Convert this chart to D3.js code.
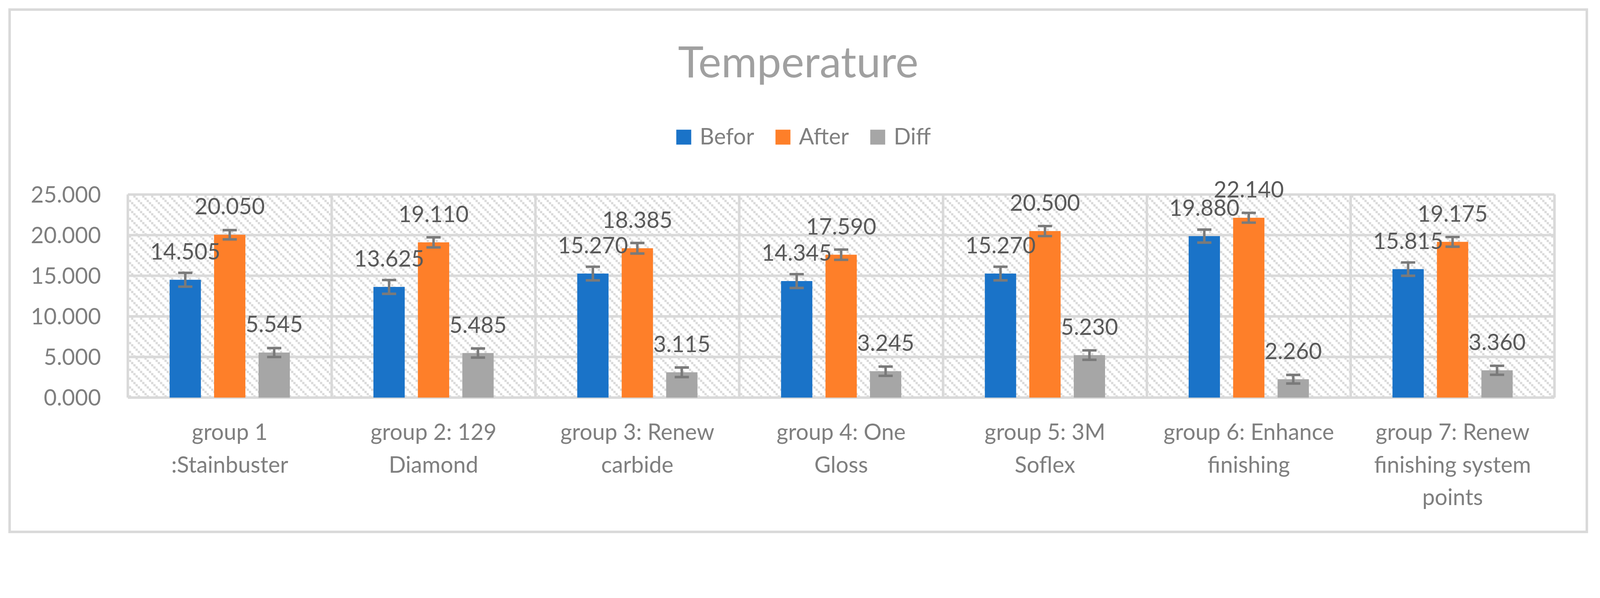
<!DOCTYPE html>
<html>
<head>
<meta charset="utf-8">
<script src="https://cdn.jsdelivr.net/npm/d3@7"></script>
<style>
  html, body { margin: 0; padding: 0; background: #fff; overflow: hidden; }
  #chart { display: block; width: 100vw; height: auto; }
  text { font-family: Lato, "Open Sans", sans-serif; }
</style>
</head>
<body>
<svg id="chart" viewBox="0 0 4500 1532" preserveAspectRatio="xMinYMin meet"></svg>
<script>
// ---- data ----
const categoryLines = [
  ['group 1', ':Stainbuster'],
  ['group 2: 129', 'Diamond'],
  ['group 3: Renew', 'carbide'],
  ['group 4: One', 'Gloss'],
  ['group 5: 3M', 'Soflex'],
  ['group 6: Enhance', 'finishing'],
  ['group 7: Renew', 'finishing system', 'points']
];
const seriesNames = ['Befor', 'After', 'Diff'];
const beforValues = [14.505, 13.625, 15.270, 14.345, 15.270, 19.880, 15.815];
const afterValues = [20.050, 19.110, 18.385, 17.590, 20.500, 22.140, 19.175];
const diffValues = [5.545, 5.485, 3.115, 3.245, 5.230, 2.260, 3.360];
// error bar half-lengths (estimated)
const beforErr = [0.85, 0.85, 0.84, 0.85, 0.84, 0.80, 0.82];
const afterErr = [0.57, 0.62, 0.65, 0.63, 0.62, 0.60, 0.60];
const diffErr = [0.55, 0.56, 0.59, 0.57, 0.58, 0.53, 0.55];
const yTicks = [0, 5, 10, 15, 20, 25];

const colors = ['#1a73c8', '#fe7f29', '#a6a6a6'];
const gridColor = '#d9d9d9';

const svg = d3.select('#chart');
const W = 4500, H = 1532;
const plot = { left: 359.5, right: 4372, top: 547.5, bottom: 1119 };

svg.append('rect').attr('width', W).attr('height', H).attr('fill', '#fff');

// outer chart border
svg.append('rect')
  .attr('x', 27).attr('y', 27).attr('width', 4463 - 27).attr('height', 1497 - 27)
  .attr('fill', 'none').attr('stroke', gridColor).attr('stroke-width', 7);

// diagonal hatch for the plot area
const defs = svg.append('defs');
const pat = defs.append('pattern').attr('id', 'hatch')
  .attr('patternUnits', 'userSpaceOnUse').attr('width', 25).attr('height', 25);
pat.append('rect').attr('width', 25).attr('height', 25).attr('fill', '#fff');
d3.range(4).forEach(i => {
  pat.append('rect').attr('x', i * 6.25).attr('y', i * 6.25)
    .attr('width', 6.25).attr('height', 6.25).attr('fill', gridColor);
});

const x0 = d3.scaleBand().domain(d3.range(categoryLines.length))
  .range([plot.left, plot.right]).paddingInner(0).paddingOuter(0);
const x1 = d3.scaleBand().domain(seriesNames)
  .range([0, x0.bandwidth()]).paddingInner(0.296).paddingOuter(0.94);
const y = d3.scaleLinear().domain([0, 25]).range([plot.bottom, plot.top]);

svg.append('rect')
  .attr('x', plot.left).attr('y', plot.top)
  .attr('width', plot.right - plot.left).attr('height', plot.bottom - plot.top)
  .attr('fill', 'url(#hatch)');

// horizontal gridlines
svg.append('g').selectAll('line').data(yTicks).join('line')
  .attr('x1', plot.left).attr('x2', plot.right)
  .attr('y1', d => y(d)).attr('y2', d => y(d))
  .attr('stroke', gridColor).attr('stroke-width', 7);

// vertical category gridlines
svg.append('g').selectAll('line').data(d3.range(categoryLines.length + 1)).join('line')
  .attr('x1', i => plot.left + i * x0.step()).attr('x2', i => plot.left + i * x0.step())
  .attr('y1', plot.top).attr('y2', plot.bottom)
  .attr('stroke', gridColor).attr('stroke-width', 7);

// y tick labels
svg.append('g').selectAll('text').data(yTicks).join('text')
  .attr('x', 284).attr('y', d => y(d) + 23)
  .attr('text-anchor', 'end').attr('font-size', 63).attr('fill', '#7f7f7f')
  .text(d => d3.format('.3f')(d));

// bars
const valueSets = [beforValues, afterValues, diffValues];
const errSets = [beforErr, afterErr, diffErr];
const barData = [];
categoryLines.forEach((c, i) => {
  seriesNames.forEach((s, k) => {
    barData.push({ i, s, k, v: valueSets[k][i], e: errSets[k][i] });
  });
});

const barX = d => x0(d.i) + x1(d.s);
const bw = x1.bandwidth();

svg.append('g').selectAll('rect').data(barData).join('rect')
  .attr('x', barX).attr('width', bw)
  .attr('y', d => y(d.v)).attr('height', d => y(0) - y(d.v))
  .attr('fill', d => colors[d.k]);

// error bars
const eg = svg.append('g').attr('stroke', '#7a7a7a').attr('stroke-width', 7);
eg.selectAll('.stem').data(barData).join('line')
  .attr('x1', d => barX(d) + bw / 2).attr('x2', d => barX(d) + bw / 2)
  .attr('y1', d => y(d.v + d.e)).attr('y2', d => y(d.v - d.e));
eg.selectAll('.capTop').data(barData).join('line')
  .attr('x1', d => barX(d) + bw / 2 - 20).attr('x2', d => barX(d) + bw / 2 + 20)
  .attr('y1', d => y(d.v + d.e)).attr('y2', d => y(d.v + d.e));
eg.selectAll('.capBot').data(barData).join('line')
  .attr('x1', d => barX(d) + bw / 2 - 20).attr('x2', d => barX(d) + bw / 2 + 20)
  .attr('y1', d => y(d.v - d.e)).attr('y2', d => y(d.v - d.e));

// data labels
svg.append('g').selectAll('text').data(barData).join('text')
  .attr('x', d => barX(d) + bw / 2).attr('y', d => y(d.v) - 57)
  .attr('text-anchor', 'middle').attr('font-size', 63).attr('fill', '#595959')
  .text(d => d3.format('.3f')(d.v));

// category labels
const cg = svg.append('g').selectAll('text').data(categoryLines).join('text')
  .attr('text-anchor', 'middle').attr('font-size', 63).attr('fill', '#7f7f7f');
cg.selectAll('tspan').data((d, i) => d.map((t, j) => ({ t, j, i }))).join('tspan')
  .attr('x', d => x0(d.i) + x0.bandwidth() / 2)
  .attr('y', d => 1238 + d.j * 92)
  .text(d => d.t);

// title
svg.append('text').attr('x', 2245).attr('y', 218)
  .attr('text-anchor', 'middle').attr('font-size', 122).attr('fill', '#a0a0a0')
  .text('Temperature');

// legend
const lg = svg.append('g');
const items = lg.selectAll('g').data(seriesNames).join('g');
items.append('rect').attr('width', 42).attr('height', 42).attr('y', 365)
  .attr('fill', (d, k) => colors[k]);
items.append('text').attr('x', 66).attr('y', 407)
  .attr('font-size', 63).attr('fill', '#7f7f7f').text(d => d);
let cx = 0;
items.each(function () {
  const w = this.getBBox().width;
  d3.select(this).attr('transform', `translate(${cx},0)`);
  cx += w + 60;
});
const legendW = cx - 60;
lg.attr('transform', `translate(${2260 - legendW / 2},0)`);
</script>
</body>
</html>
